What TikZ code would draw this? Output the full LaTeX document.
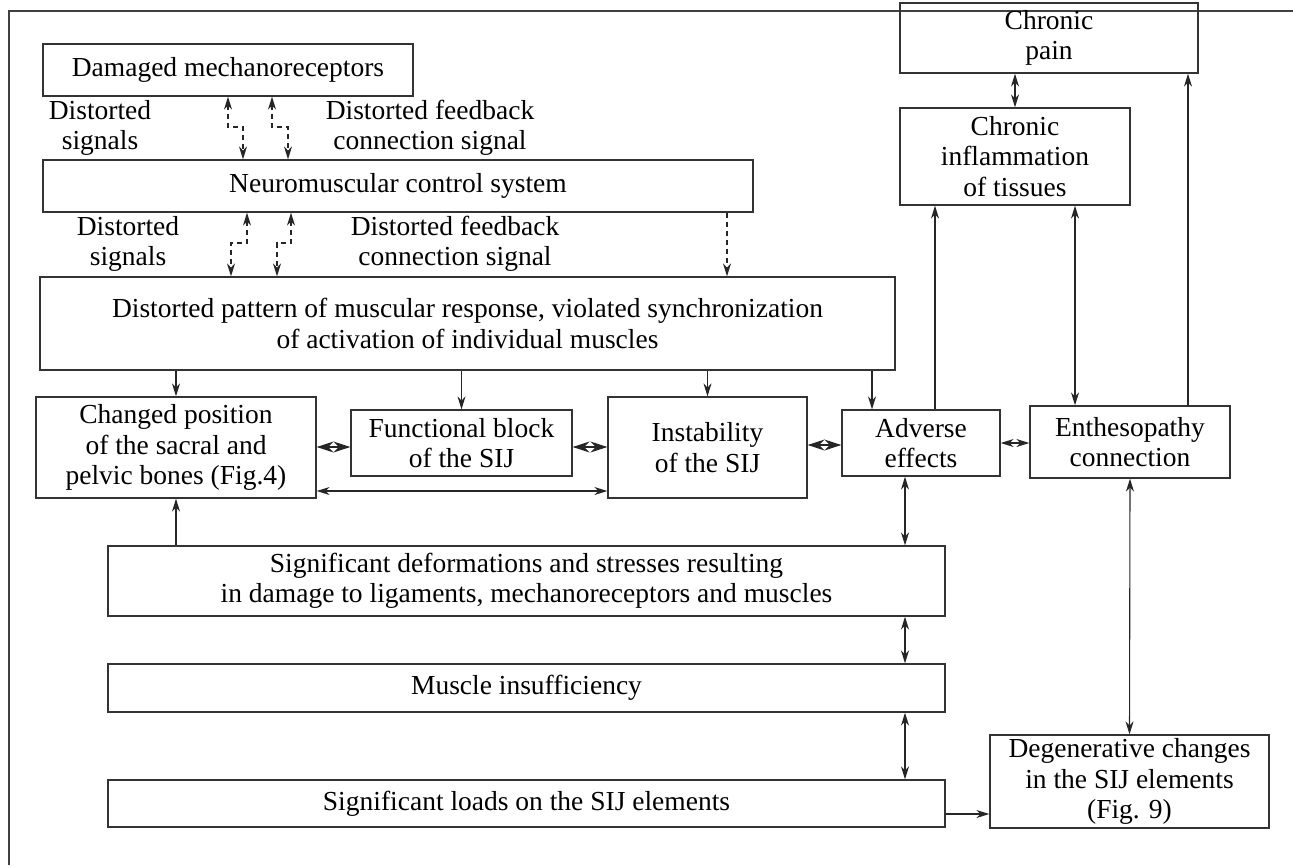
\documentclass[tikz,border=0pt]{standalone}
\usepackage{fontspec}
\setmainfont{Liberation Serif}
\usetikzlibrary{arrows.meta}
\begin{document}
\begin{tikzpicture}[x=1pt,y=-1pt,
 box/.style={draw=black!80, line width=1.3pt, inner sep=0pt, align=center, font=\fontsize{27.5}{30.5}\selectfont},
 lbl/.style={inner sep=0pt, align=center, font=\fontsize{27.5}{30.5}\selectfont},
 arr/.style={draw=black!85, line width=1.1pt, -{Stealth[length=13pt,width=8pt]}},
 darr/.style={draw=black!85, line width=1.1pt, {Stealth[length=13pt,width=8pt]}-{Stealth[length=13pt,width=8pt]}},
 dia/.style={draw=black!85, line width=1.1pt, {Stealth[length=17pt,width=11pt]}-{Stealth[length=17pt,width=11pt]}},
 dsh/.style={darr, dash pattern=on 5pt off 4pt}]
\useasboundingbox (0,0) rectangle (1293,865);
\draw[draw=black!75, line width=1.3pt] (9,865) -- (9,11) -- (1293,11);
% boxes
\node[box, minimum width=370pt, minimum height=52pt] (dmg) at (228,70) {Damaged mechanoreceptors};
\node[box, minimum width=710pt, minimum height=52pt] (ncs) at (398,186) {Neuromuscular control system};
\node[box, minimum width=855pt, minimum height=93pt] (dp) at (467.5,323.5) {Distorted pattern of muscular response, violated synchronization\\of activation of individual muscles};
\node[box, minimum width=280pt, minimum height=101pt] (cp) at (176,447.5) {Changed position\\of the sacral and\\pelvic bones (Fig.4)};
\node[box, minimum width=221pt, minimum height=66pt] (fb) at (461.5,443) {Functional block\\of the SIJ};
\node[box, minimum width=199pt, minimum height=101pt] (ins) at (707.5,447.5) {Instability\\of the SIJ};
\node[box, minimum width=158pt, minimum height=66pt] (adv) at (921,443) {Adverse\\effects};
\node[box, minimum width=200pt, minimum height=72pt] (ent) at (1130,442) {Enthesopathy\\connection};
\node[box, minimum width=298pt, minimum height=70pt] (pain) at (1049,38) {Chronic\\pain};
\node[box, minimum width=230pt, minimum height=97pt] (infl) at (1015,156.5) {Chronic\\inflammation\\of tissues};
\node[box, minimum width=837pt, minimum height=70pt] (def) at (526.5,581) {Significant deformations and stresses resulting\\in damage to ligaments, mechanoreceptors and muscles};
\node[box, minimum width=837pt, minimum height=48pt] (mus) at (526.5,688) {Muscle insufficiency};
\node[box, minimum width=837pt, minimum height=47pt] (loads) at (526.5,803.5) {Significant loads on the SIJ elements};
\node[box, minimum width=279pt, minimum height=93pt] (deg) at (1129.5,781.5) {Degenerative changes\\in the SIJ elements\\(Fig. 9)};
% labels
\node[lbl] (l1) at (100,128) {Distorted\\signals};
\node[lbl] (l2) at (430,128) {Distorted feedback\\connection signal};
\node[lbl] (l3) at (128,244) {Distorted\\signals};
\node[lbl] (l4) at (455,244) {Distorted feedback\\connection signal};
% dashed feedback arrows
\draw[dsh] (dmg.south -| 228,0) -- (228,127) -- (243,127) -- (ncs.north -| 243,0);
\draw[dsh] (dmg.south -| 272,0) -- (272,127) -- (288,127) -- (ncs.north -| 288,0);
\draw[dsh] (ncs.south -| 247,0) -- (247,243) -- (231,243) -- (dp.north -| 231,0);
\draw[dsh] (ncs.south -| 291,0) -- (291,243) -- (277,243) -- (dp.north -| 277,0);
\draw[arr, dash pattern=on 5pt off 4pt] (ncs.south -| 727,0) -- (dp.north -| 727,0);
% down arrows
\draw[arr] (dp.south -| cp.north) -- (cp.north);
\draw[arr] (dp.south -| fb.north) -- (fb.north);
\draw[arr] (dp.south -| ins.north) -- (ins.north);
\draw[arr] (dp.south -| 872,0) -- (adv.north -| 872,0);
% diamonds
\draw[dia] (cp.east |- 0,447) -- (fb.west |- 0,447);
\draw[dia] (fb.east |- 0,447) -- (ins.west |- 0,447);
\draw[dia] (ins.east |- 0,445) -- (adv.west |- 0,445);
\draw[darr] (cp.east |- 0,491) -- (ins.west |- 0,491);
\draw[darr] (adv.east) -- (ent.west |- adv.east);
% right side
\draw[arr] (adv.north -| 935,0) -- (infl.south -| 935,0);
\draw[darr] (pain.south -| 1015,0) -- (infl.north -| 1015,0);
\draw[darr] (infl.south -| 1075,0) -- (ent.north -| 1075,0);
\draw[arr] (ent.north -| 1188,0) -- (pain.south -| 1188,0);
\draw[darr] (ent.south) -- (deg.north);
% bottom
\draw[arr] (def.north -| cp.south) -- (cp.south);
\draw[darr] (adv.south -| 905,0) -- (def.north -| 905,0);
\draw[darr] (def.south -| 905,0) -- (mus.north -| 905,0);
\draw[darr] (mus.south -| 905,0) -- (loads.north -| 905,0);
\draw[arr] (loads.east |- 0,814) -- (deg.west |- 0,814);
\end{tikzpicture}
\end{document}
